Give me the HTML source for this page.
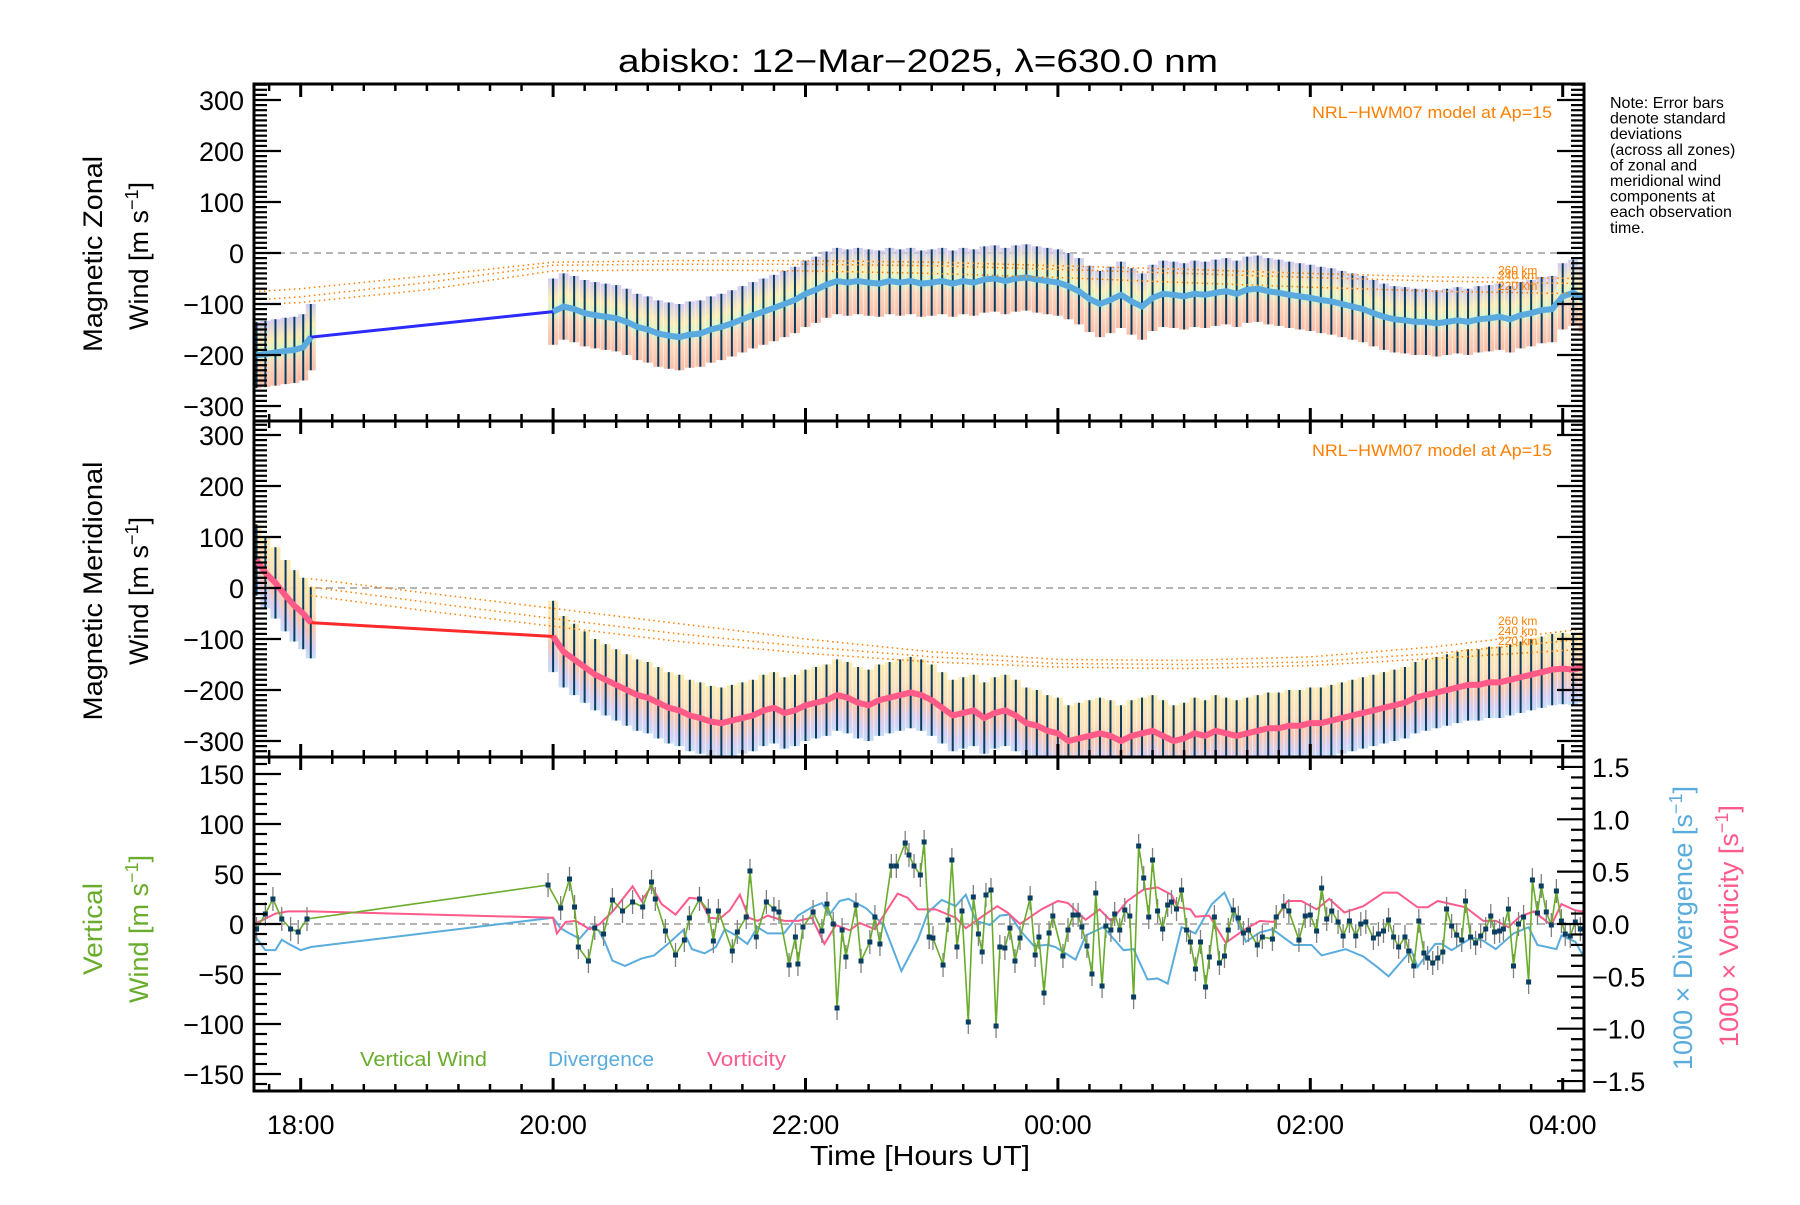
<!DOCTYPE html>
<html><head><meta charset="utf-8"><style>
body{margin:0;background:#fff}
svg text{font-family:"Liberation Sans",sans-serif}
</style></head><body>
<svg id="chart" width="1800" height="1200" viewBox="0 0 1800 1200" xmlns="http://www.w3.org/2000/svg">
<defs>
<linearGradient id="bandG" x1="0" y1="0" x2="0" y2="1">
<stop offset="0" stop-color="#c9c3ef"/><stop offset="0.3" stop-color="#fbe9a8"/><stop offset="0.5" stop-color="#c9f3c4"/><stop offset="0.65" stop-color="#fbd0b0"/><stop offset="1" stop-color="#f8b49c"/>
</linearGradient>
<linearGradient id="bandM" x1="0" y1="0" x2="0" y2="1">
<stop offset="0" stop-color="#fbe9a8"/><stop offset="0.35" stop-color="#fbdcb0"/><stop offset="0.6" stop-color="#f8c0a8"/><stop offset="0.85" stop-color="#cfc8f2"/><stop offset="1" stop-color="#c0d8f4"/>
</linearGradient>
</defs>
<g id="layer"></g>
</svg>
<script>
// ---------- data ----------
const earlyTimes=[17.65,17.72,17.80,17.88,17.95,18.02,18.08];
const earlyZonal=[-200,-198,-195,-192,-190,-185,-165];
const earlyMerid=[55,30,10,-15,-35,-50,-68];
const zonal=[-115,-105,-110,-118,-122,-125,-128,-135,-145,-150,-158,-162,
-165,-160,-158,-150,-145,-138,-130,-122,-115,-108,-100,-92,
-80,-72,-62,-55,-58,-55,-58,-60,-55,-58,-55,-60,
-58,-55,-60,-55,-58,-52,-50,-55,-50,-48,-52,-55,
-58,-65,-75,-90,-100,-92,-82,-95,-105,-88,-80,-82,
-85,-80,-82,-78,-75,-80,-72,-70,-75,-78,-82,-85,
-88,-92,-95,-100,-105,-110,-118,-125,-130,-132,-135,-135,
-138,-135,-132,-135,-130,-128,-125,-130,-122,-118,-112,-110,
-85,-78,-90];
const merid=[-95,-125,-140,-155,-170,-180,-190,-200,-210,-215,-225,-235,
-240,-250,-255,-262,-265,-260,-255,-250,-240,-235,-245,-240,
-230,-225,-220,-210,-215,-225,-230,-220,-215,-210,-205,-210,
-220,-235,-250,-245,-240,-255,-245,-240,-250,-265,-270,-280,
-285,-300,-295,-290,-285,-290,-300,-290,-285,-280,-290,-300,
-295,-285,-290,-280,-285,-290,-285,-280,-275,-275,-270,-270,
-265,-265,-260,-255,-250,-245,-240,-235,-230,-225,-215,-210,
-205,-200,-195,-190,-190,-185,-185,-180,-175,-170,-165,-160,
-158,-160,-155];
const zonalSd=65, meridSd=70;
const modelTimes=[17.63,18,19,20,21,22,23,24,25,26,27,28.17];
const zon260=[-76,-70,-45,-18,-15,-15,-18,-25,-32,-40,-47,-50];
const zon240=[-92,-86,-58,-24,-22,-22,-25,-32,-40,-48,-55,-60];
const zon220=[-102,-97,-72,-35,-33,-35,-40,-48,-58,-67,-75,-80];
const merModelTimes=[18.08,19,20,21,22,23,24,25,26,27,28.17];
const mer260=[18,-10,-40,-70,-100,-125,-140,-142,-135,-115,-80];
const mer240=[2,-28,-60,-90,-115,-135,-148,-150,-145,-128,-100];
const mer220=[-15,-45,-75,-105,-128,-145,-155,-158,-152,-138,-120];
const vwTimes=[17.65,17.72,17.78,17.85,17.92,17.98,18.05,19.96,20.06,20.13,20.17,20.20,20.28,20.33,20.40,20.47,20.55,20.63,20.71,20.78,20.81,20.89,20.97,21.04,21.08,21.16,21.23,21.27,21.31,21.42,21.46,21.53,21.56,21.61,21.69,21.75,21.79,21.87,21.92,21.94,21.98,22.06,22.13,22.17,22.22,22.25,22.29,22.32,22.40,22.44,22.51,22.55,22.59,22.68,22.72,22.79,22.82,22.86,22.91,22.94,22.98,23.01,23.09,23.13,23.16,23.20,23.24,23.29,23.33,23.37,23.40,23.43,23.47,23.51,23.54,23.58,23.62,23.66,23.70,23.78,23.82,23.85,23.89,23.93,23.96,
24.04,24.08,24.12,24.16,24.19,24.23,24.27,24.30,24.35,24.38,24.42,24.45,24.49,24.53,24.57,24.60,24.64,24.68,24.72,24.75,24.79,24.83,24.87,24.90,24.94,24.98,25.02,25.05,25.09,25.13,25.17,25.20,25.24,25.28,25.32,25.35,25.39,25.43,25.47,25.51,25.58,25.62,25.70,25.73,25.79,25.83,25.91,25.96,26.00,26.05,26.09,26.13,26.17,26.22,26.26,26.31,26.36,26.40,26.44,26.50,26.54,26.58,26.62,26.66,26.70,26.75,26.78,26.82,26.86,26.90,26.93,26.97,27.01,27.05,27.08,27.12,27.16,27.20,27.23,27.27,27.31,27.35,27.39,27.43,27.46,27.50,27.53,27.57,27.61,27.65,27.69,27.73,27.76,27.80,27.83,27.87,27.91,27.95,27.99,28.02,28.06,28.10,28.14];
const vwValues=[-5,10,25,5,-5,-8,5,39,16,45,17,-23,-37,-4,-10,24,13,22,17,42,25,-7,-31,-16,6,25,13,-17,13,-27,-8,7,53,-13,22,15,12,-41,-13,-40,-3,12,-7,20,0,-84,-6,-33,19,-37,-18,7,-20,58,58,81,69,58,49,82,-13,-14,-41,4,64,-23,13,-98,27,-10,-28,29,34,-102,-23,-24,-4,-37,-14,26,-31,-13,-69,-9,8,
-32,-6,9,9,-3,-22,-50,31,-62,-2,-6,10,-6,14,8,-73,78,46,7,64,13,-5,19,22,15,34,-6,-18,-45,-18,-63,-33,7,-39,-32,-6,14,6,-9,-6,-21,-13,-15,7,18,13,-16,8,9,-7,36,5,13,2,-12,3,-12,0,2,-14,-10,-7,4,-13,-23,-13,-27,-42,3,-29,-34,-39,-34,-28,15,-2,-11,-16,23,-13,-19,-12,-5,8,-8,-7,-5,15,-42,0,7,-58,44,11,38,12,-1,33,3,-10,-12,2,-5];
const vwSd=12;
const divTimes=[17.63,17.72,17.80,17.85,17.92,18.00,18.08,20.00,20.06,20.13,20.21,20.29,20.36,20.41,20.47,20.57,20.70,20.80,20.91,21.03,21.10,21.20,21.29,21.36,21.45,21.54,21.62,21.70,21.83,21.94,22.05,22.13,22.19,22.27,22.34,22.48,22.62,22.76,22.89,22.97,23.08,23.19,23.27,23.35,23.46,23.54,23.62,23.70,23.81,23.92,23.98,24.14,24.22,24.36,24.52,24.60,24.71,24.79,24.87,24.98,25.09,25.22,25.32,25.39,25.49,25.60,25.70,25.87,26.01,26.09,26.28,26.42,26.53,26.62,26.80,26.85,26.99,27.04,27.12,27.28,27.37,27.47,27.61,27.73,27.80,27.95,27.99,28.10,28.16];
const divValues=[-0.1,-0.25,-0.25,-0.15,-0.2,-0.25,-0.22,0.06,-0.04,-0.09,-0.14,-0.03,-0.06,-0.17,-0.35,-0.40,-0.33,-0.30,-0.19,-0.06,-0.24,-0.28,-0.22,-0.05,-0.11,-0.19,-0.03,-0.09,-0.09,0.08,0.16,0.20,0.09,0.22,0.24,0.15,-0.01,-0.45,-0.15,0.11,0.23,0.17,0.28,0.03,-0.01,0.08,0.09,-0.06,-0.21,-0.20,-0.22,-0.34,-0.11,-0.03,-0.25,-0.24,-0.53,-0.52,-0.57,-0.03,-0.09,0.19,0.30,0.11,-0.17,-0.08,-0.05,-0.20,-0.20,-0.30,-0.24,-0.31,-0.41,-0.50,-0.25,-0.41,-0.19,-0.19,-0.25,-0.13,-0.16,-0.24,-0.09,-0.03,-0.20,-0.24,-0.11,-0.17,-0.30];
const vorTimes=[17.63,17.72,17.80,17.90,18.00,18.08,20.00,20.03,20.10,20.18,20.29,20.37,20.48,20.63,20.70,20.78,20.86,20.97,21.08,21.16,21.24,21.32,21.40,21.48,21.55,21.62,21.70,21.83,21.94,22.05,22.15,22.24,22.35,22.43,22.55,22.65,22.73,22.81,22.89,23.03,23.19,23.27,23.41,23.52,23.60,23.70,23.87,24.00,24.08,24.22,24.33,24.42,24.55,24.68,24.79,24.90,24.95,25.05,25.09,25.20,25.33,25.47,25.60,25.71,25.82,25.93,26.05,26.15,26.27,26.42,26.58,26.69,26.85,26.93,27.01,27.23,27.37,27.47,27.57,27.66,27.77,27.91,27.99,28.10,28.16];
const vorValues=[0.0,0.05,0.1,0.12,0.12,0.12,0.06,-0.09,0.02,0.03,-0.05,0.0,0.13,0.36,0.22,0.36,0.19,0.09,0.25,0.24,0.06,0.05,0.13,0.28,0.06,0.03,0.08,0.03,0.03,0.06,-0.19,-0.01,-0.06,0.01,-0.05,0.14,0.29,0.25,0.14,0.14,0.06,-0.04,0.08,0.17,0.11,0.0,0.14,0.22,0.20,0.04,0.14,0.03,0.22,0.33,0.35,0.28,0.16,0.14,0.07,0.08,-0.18,-0.06,0.03,0.02,0.22,0.22,0.14,0.24,0.11,0.17,0.30,0.30,0.16,0.16,0.22,0.16,0.03,0.03,-0.03,0.07,0.12,-0.01,0.19,0.13,0.12];
const xTickLabels=["18:00","20:00","22:00","00:00","02:00","04:00"];
const xTickHours=[18,20,22,24,26,28];
const windTickValues=[300,200,100,0,-100,-200,-300];
const vwTickValues=[150,100,50,0,-50,-100,-150];
const rightTickValues=[1.5,1.0,0.5,0.0,-0.5,-1.0,-1.5];

// ---------- geometry ----------
const L=254,R=1584,T0=17.63,PXH=126.2;
const P=[{top:84,bot:421,zero:253,k:0.51},{top:421,bot:757,zero:588,k:0.51},{top:757,bot:1091,zero:924,k:1.0}];
const RK=104.7;
const X=t=>L+(t-T0)*PXH;
const Y=(p,v)=>P[p].zero-v*P[p].k;
const YR=v=>P[2].zero-v*RK;
const NS="http://www.w3.org/2000/svg";
const layer=document.getElementById('layer');
function mk(tag,attrs,parent){const e=document.createElementNS(NS,tag);for(const k in attrs)e.setAttribute(k,attrs[k]);(parent||layer).appendChild(e);return e;}
function txt(s,attrs,parent){const e=mk('text',attrs,parent);e.textContent=s;return e;}
function grp(name){const g=mk('g',{});return g;}

const defs=document.querySelector('defs');
P.forEach((p,i)=>{const c=mk('clipPath',{id:'clip'+i},defs);mk('rect',{x:L,y:p.top,width:R-L,height:p.bot-p.top},c);});

P.forEach((p,i)=>{const l=mk('line',{x1:L,x2:R,y1:p.zero,y2:p.zero,stroke:'#888',"stroke-width":1.3,"stroke-dasharray":"7,5"});

});

function windPanel(pi,vals,early,sd,grad,lineCol,markCol,name){
  const g=grp(name+'-series');g.setAttribute('clip-path','url(#clip'+pi+')');
  const times=[];const values=[];
  early.forEach((v,i)=>{times.push(earlyTimes[i]);values.push(v);});
  vals.forEach((v,i)=>{times.push(20+i/12);values.push(v);});
  times.forEach((t,i)=>{const r=mk('rect',{x:X(t)-5,width:10,y:Y(pi,values[i]+sd),height:2*sd*P[pi].k,fill:'url(#'+grad+')',opacity:0.85},g);
    
    });
  times.forEach((t,i)=>{const l=mk('line',{x1:X(t),x2:X(t),y1:Y(pi,values[i]+sd),y2:Y(pi,values[i]-sd),stroke:'#0a3d62',"stroke-width":2},g);
    
    });
  const pl=mk('polyline',{points:times.map((t,i)=>X(t)+','+Y(pi,values[i])).join(' '),fill:'none',stroke:lineCol,"stroke-width":3},g);
  
  
  [times.slice(0,early.length),times.slice(early.length)].forEach((seg,si)=>{
    const off=si?early.length:0;
    const o=mk('polyline',{points:seg.map((t,i)=>X(t)+','+Y(pi,values[i+off])).join(' '),fill:'none',stroke:markCol,"stroke-width":6,"stroke-linejoin":"round"},g);
    
    
  });
}
windPanel(0,zonal,earlyZonal,zonalSd,'bandG','#2b2bff','#5aaae0','zonal');
windPanel(1,merid,earlyMerid,meridSd,'bandM','#ff2a2a','#ff5a88','meridional');

function model(pi,times,arrs,labels){
  const g=grp('hwm07-model-'+(pi+1));
  arrs.forEach((a,j)=>{const l=mk('polyline',{points:times.map((t,i)=>X(t)+','+Y(pi,a[i])).join(' '),fill:'none',stroke:'#ff7f00',"stroke-width":1.5,"stroke-dasharray":"1.5,3.5"},g);
    
    
    const tx=txt(labels[j],{x:1498,y:Y(pi,a[a.length-1])-4,"font-size":12,fill:'#ff7f00'},g);
    
    
  });
}
model(0,modelTimes,[zon260,zon240,zon220],['260 km','240 km','220 km']);
model(1,merModelTimes,[mer260,mer240,mer220],['260 km','240 km','220 km']);

{
  const g=grp('vertical-panel-series');g.setAttribute('clip-path','url(#clip2)');
  const dl=mk('polyline',{points:divTimes.map((t,i)=>X(t)+','+YR(divValues[i])).join(' '),fill:'none',stroke:'#5aacdc',"stroke-width":2},g);
  
  
  const vl=mk('polyline',{points:vorTimes.map((t,i)=>X(t)+','+YR(vorValues[i])).join(' '),fill:'none',stroke:'#ff5a8c',"stroke-width":2},g);
  
  
  vwTimes.forEach((t,i)=>{const l=mk('line',{x1:X(t),x2:X(t),y1:Y(2,vwValues[i]+vwSd),y2:Y(2,vwValues[i]-vwSd),stroke:'#808080',"stroke-width":1.3},g);
    
    });
  const wl=mk('polyline',{points:vwTimes.map((t,i)=>X(t)+','+Y(2,vwValues[i])).join(' '),fill:'none',stroke:'#6aac2c',"stroke-width":1.6},g);
  
  
  vwTimes.forEach((t,i)=>{const r=mk('rect',{x:X(t)-2.5,y:Y(2,vwValues[i])-2.5,width:5,height:5,fill:'#0a3d62'},g);
    
    });
}

const ax=grp('axes');
P.forEach((p,pi)=>{
  mk('rect',{x:L,y:p.top,width:R-L,height:p.bot-p.top,fill:'none',stroke:'#000',"stroke-width":3},ax);
  for(let m=0;;m++){const t=17.75+m*0.25;if(t>28.16)break;const x=X(t);const major=Math.abs(t-Math.round(t))<1e-6&&Math.round(t)%2===0;const len=major?13:7;
    mk('line',{x1:x,x2:x,y1:p.bot,y2:p.bot-len,stroke:'#000',"stroke-width":major?3:2.5},ax);
    mk('line',{x1:x,x2:x,y1:p.top,y2:p.top+len,stroke:'#000',"stroke-width":major?3:2.5},ax);}
  const step=10,majorStep=pi<2?100:50;const vmax=(p.zero-p.top)/p.k;
  for(let v=-Math.floor(vmax/step)*step;v<=vmax;v+=step){const y=Y(pi,v);const major=Math.abs(v%majorStep)<1e-6;const len=major?27:13;
    mk('line',{x1:L,x2:L+len,y1:y,y2:y,stroke:'#000',"stroke-width":2.2},ax);
    if(pi<2)mk('line',{x1:R,x2:R-len,y1:y,y2:y,stroke:'#000',"stroke-width":2.2},ax);}
});
for(let k=-15;k<=15;k++){const v=k/10;const y=YR(v);const major=k%5===0;const len=major?27:13;
  mk('line',{x1:R,x2:R-len,y1:y,y2:y,stroke:'#000',"stroke-width":2.2},ax);}

function fmt(v){return (v<0?'\u2212':'')+Math.abs(v);}
[0,1].forEach(pi=>windTickValues.forEach(v=>{const t=txt(fmt(v),{x:244,y:Y(pi,v)+10,"font-size":27,"text-anchor":"end"});
  
  }));
vwTickValues.forEach(v=>{const t=txt(fmt(v),{x:244,y:Y(2,v)+10,"font-size":27,"text-anchor":"end"});
  
  });
rightTickValues.forEach(v=>{const t=txt((v<0?'\u2212':'')+Math.abs(v).toFixed(1),{x:1592,y:YR(v)+10,"font-size":27});
  
  });
xTickLabels.forEach((s,i)=>{const t=txt(s,{x:X(xTickHours[i]),y:1134,"font-size":27,"text-anchor":"middle"});
  
  });

function label(s,attrs,name,len){const t=txt('',attrs);t.innerHTML=s;if(len){t.setAttribute('textLength',len);t.setAttribute('lengthAdjust','spacingAndGlyphs');}
  
  return t;}
label('abisko: 12\u2212Mar\u22122025, \u03bb=630.0 nm',{x:918,y:72,"font-size":32,"text-anchor":"middle"},'chart-title',600);
label('Time [Hours UT]',{x:920,y:1165,"font-size":28,"text-anchor":"middle"},'x-axis-title',220);
label('Magnetic Zonal',{transform:'translate(102,254) rotate(-90)',"font-size":27,"text-anchor":"middle"},'zonal-y-title-1',196);
label('Wind [m s<tspan dy="-10" font-size="18">\u22121</tspan><tspan dy="10">]</tspan>',{transform:'translate(148,256) rotate(-90)',"font-size":27,"text-anchor":"middle"},'zonal-y-title-2');
label('Magnetic Meridional',{transform:'translate(102,591) rotate(-90)',"font-size":27,"text-anchor":"middle"},'meridional-y-title-1',259);
label('Wind [m s<tspan dy="-10" font-size="18">\u22121</tspan><tspan dy="10">]</tspan>',{transform:'translate(148,591) rotate(-90)',"font-size":27,"text-anchor":"middle"},'meridional-y-title-2');
label('Vertical',{transform:'translate(102,929) rotate(-90)',"font-size":27,"text-anchor":"middle",fill:'#6aac2c'},'vertical-y-title-1',92);
label('Wind [m s<tspan dy="-10" font-size="18">\u22121</tspan><tspan dy="10">]</tspan>',{transform:'translate(148,929) rotate(-90)',"font-size":27,"text-anchor":"middle",fill:'#6aac2c'},'vertical-y-title-2');
label('1000 \u00d7 Divergence [s<tspan dy="-10" font-size="18">\u22121</tspan><tspan dy="10">]</tspan>',{transform:'translate(1692,928) rotate(-90)',"font-size":27,"text-anchor":"middle",fill:'#5aacdc'},'divergence-axis-title');
label('1000 \u00d7 Vorticity [s<tspan dy="-10" font-size="18">\u22121</tspan><tspan dy="10">]</tspan>',{transform:'translate(1738,926) rotate(-90)',"font-size":27,"text-anchor":"middle",fill:'#ff5a8c'},'vorticity-axis-title');
label('NRL\u2212HWM07 model at Ap=15',{x:1552,y:118,"font-size":17,"text-anchor":"end",fill:'#ff7f00'},'model-note-1',240);
label('NRL\u2212HWM07 model at Ap=15',{x:1552,y:456,"font-size":17,"text-anchor":"end",fill:'#ff7f00'},'model-note-2',240);
label('Vertical Wind',{x:360,y:1066,"font-size":20,fill:'#6aac2c'},'legend-vertical-wind',127);
label('Divergence',{x:548,y:1066,"font-size":20,fill:'#5aacdc'},'legend-divergence',106);
label('Vorticity',{x:707,y:1066,"font-size":20,fill:'#ff5a8c'},'legend-vorticity',79);
const note=['Note: Error bars','denote standard','deviations','(across all zones)','of zonal and','meridional wind','components at','each observation','time.'];
note.forEach((s,i)=>{const t=txt(s,{x:1610,y:108+i*15.6,"font-size":16});
  
  });
</script>
</body></html>
